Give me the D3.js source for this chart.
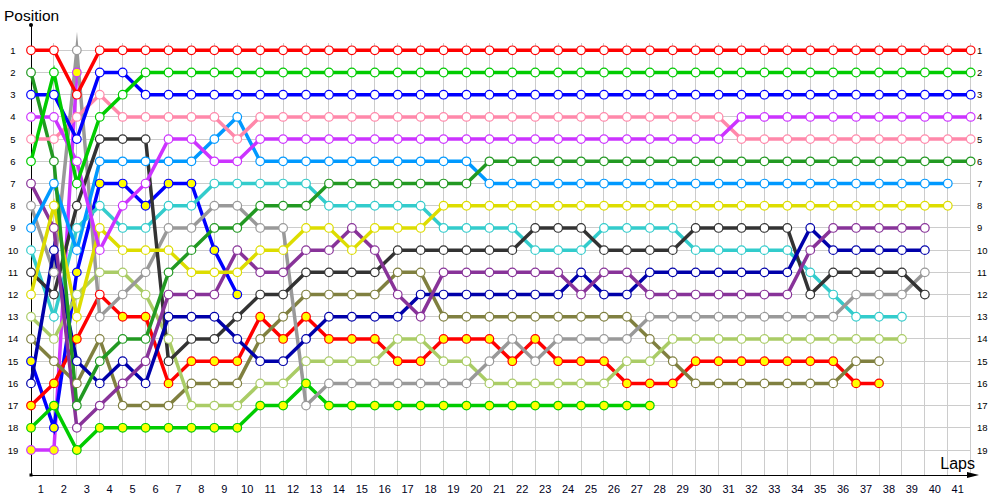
<!DOCTYPE html>
<html><head><meta charset="utf-8">
<script src="https://cdn.jsdelivr.net/npm/d3@7"></script>
<style>body{margin:0;background:#fff}svg{display:block}</style>
</head><body>
<svg id="c" width="1000" height="500"></svg>
<script>
// ---------- DATA ----------
const lapTicks = [1,2,3,4,5,6,7,8,9,10,11,12,13,14,15,16,17,18,19,20,21,22,23,24,25,26,27,28,29,30,31,32,33,34,35,36,37,38,39,40,41];
const positionTicks = [1,2,3,4,5,6,7,8,9,10,11,12,13,14,15,16,17,18,19];

// positions per lap, starting at lap 0
const red1    = [1,1,3,1,1,1,1,1,1,1,1,1,1,1,1,1,1,1,1,1,1,1,1,1,1,1,1,1,1,1,1,1,1,1,1,1,1,1,1,1,1,1];
const green1  = [6,2,7,4,3,2,2,2,2,2,2,2,2,2,2,2,2,2,2,2,2,2,2,2,2,2,2,2,2,2,2,2,2,2,2,2,2,2,2,2,2,2];
const blue1   = [3,3,5,2,2,3,3,3,3,3,3,3,3,3,3,3,3,3,3,3,3,3,3,3,3,3,3,3,3,3,3,3,3,3,3,3,3,3,3,3,3,3];
const magenta1= [4,4,6,10,8,7,5,5,6,6,5,5,5,5,5,5,5,5,5,5,5,5,5,5,5,5,5,5,5,5,5,4,4,4,4,4,4,4,4,4,4,4];
const pink    = [5,5,4,3,4,4,4,4,4,5,4,4,4,4,4,4,4,4,4,4,4,4,4,4,4,4,4,4,4,4,4,5,5,5,5,5,5,5,5,5,5,5];
const dkgreen = [2,6,17,15,14,14,11,10,9,9,8,8,8,7,7,7,7,7,7,7,6,6,6,6,6,6,6,6,6,6,6,6,6,6,6,6,6,6,6,6,6,6];
const ltblue  = [9,7,10,6,6,6,6,6,5,4,6,6,6,6,6,6,6,6,6,6,7,7,7,7,7,7,7,7,7,7,7,7,7,7,7,7,7,7,7,7,7];
const yellow  = [12,8,13,9,10,10,10,11,11,11,10,10,9,9,10,9,9,9,8,8,8,8,8,8,8,8,8,8,8,8,8,8,8,8,8,8,8,8,8,8,8];
const purple  = [7,9,18,17,16,15,12,12,12,10,11,11,10,10,9,10,12,13,11,11,11,11,11,11,12,11,11,12,12,12,12,12,12,12,10,9,9,9,9,9];
const navy    = [16,10,15,16,15,16,13,13,13,14,15,15,14,13,13,13,13,12,12,12,12,12,12,12,11,12,12,11,11,11,11,11,11,11,9,10,10,10,10,10];
const black   = [11,12,8,5,5,5,15,14,14,13,12,12,11,11,11,11,10,10,10,10,10,10,9,9,9,10,10,10,10,9,9,9,9,9,12,11,11,11,11,12];
const gray    = [8,11,1,13,12,11,9,9,8,8,9,9,17,16,16,16,16,16,16,16,15,14,15,14,14,14,14,13,13,13,13,13,13,13,13,13,12,12,12,11];
const cyan    = [10,13,9,8,9,9,8,8,7,7,7,7,7,8,8,8,8,8,9,9,9,9,10,10,10,9,9,9,9,10,10,10,10,10,11,12,13,13,13];
const ltgreen = [13,14,12,11,11,12,14,17,17,17,16,16,15,15,15,15,14,14,15,15,16,16,16,16,16,16,15,15,14,14,14,14,14,14,14,14,14,14,14];
const olive   = [14,15,16,14,17,17,17,16,16,16,14,13,12,12,12,12,11,11,13,13,13,13,13,13,13,13,13,14,15,16,16,16,16,16,16,16,15,15];
const red2    = [17,16,14,12,13,13,16,15,15,15,13,14,13,14,14,14,15,15,14,14,14,15,14,15,15,15,16,16,16,15,15,15,15,15,15,15,16,16];
const green2  = [18,17,19,18,18,18,18,18,18,18,17,17,16,17,17,17,17,17,17,17,17,17,17,17,17,17,17,17];
const blue2   = [15,18,11,7,7,8,7,7,10,12];
const magenta2= [19,19,2];

// laps where a marker is shown hollow although the series normally uses filled markers
const red2HollowLaps = [3];

// ---------- STYLE ----------
const series = [
  {v: magenta2, c:"#cc33ff", filled:true},
  {v: blue2,    c:"#0000ff", filled:true},
  {v: green2,   c:"#00cc00", filled:true},
  {v: red2,     c:"#ff0000", filled:true, hollow:red2HollowLaps},
  {v: olive,    c:"#808040"},
  {v: ltgreen,  c:"#aacc66"},
  {v: cyan,     c:"#33cccc"},
  {v: gray,     c:"#999999"},
  {v: black,    c:"#333333"},
  {v: navy,     c:"#0000aa"},
  {v: purple,   c:"#883399"},
  {v: yellow,   c:"#dddd00"},
  {v: ltblue,   c:"#0099ff"},
  {v: dkgreen,  c:"#229922"},
  {v: pink,     c:"#ff88aa"},
  {v: magenta1, c:"#cc33ff"},
  {v: blue1,    c:"#0000ff"},
  {v: green1,   c:"#00cc00"},
  {v: red1,     c:"#ff0000"}
];

const svg = d3.select("#c");
const x = d3.scaleLinear().domain([0,41]).range([31, 970.7]);
const y = d3.scaleLinear().domain([1,19]).range([50.3, 450]);
const font = "Tahoma, 'Liberation Sans', Arial, sans-serif";
const axisY = 475;

// grid
const g = svg.append("g");
g.selectAll("line.v").data(d3.range(0,42)).join("line")
  .attr("x1", d=>x(d)).attr("x2", d=>x(d)).attr("y1", 43).attr("y2", axisY)
  .attr("stroke", "#cccccc").attr("stroke-width", 1).attr("shape-rendering","crispEdges");
g.selectAll("line.h").data(positionTicks).join("line")
  .attr("x1", 31).attr("x2", x(41)).attr("y1", d=>y(d)).attr("y2", d=>y(d))
  .attr("stroke", "#cccccc").attr("stroke-width", 1).attr("shape-rendering","crispEdges");

// axes
svg.append("line").attr("x1",31).attr("x2",31).attr("y1",25).attr("y2",axisY)
  .attr("stroke","#000").attr("stroke-width",1).attr("shape-rendering","crispEdges");
svg.append("line").attr("x1",31).attr("x2",972).attr("y1",axisY).attr("y2",axisY)
  .attr("stroke","#000").attr("stroke-width",1).attr("shape-rendering","crispEdges");
svg.append("path").attr("d",`M967,${axisY-3} L979,${axisY} L967,${axisY+3} Z`).attr("fill","#000");
svg.append("circle").attr("cx",31).attr("cy",25).attr("r",2).attr("fill","#000");
svg.append("rect").attr("x",29.5).attr("y",axisY-1.5).attr("width",3).attr("height",3).attr("fill","#000");

// labels
svg.selectAll("text.pl").data(positionTicks).join("text")
  .attr("x", 13).attr("y", d=>y(d)+3.5).attr("text-anchor","middle")
  .attr("font-family", font).attr("font-size", 9.5).attr("fill","#000").text(d=>d);
svg.selectAll("text.pr").data(positionTicks).join("text")
  .attr("x", 977).attr("y", d=>y(d)+3.5).attr("text-anchor","start")
  .attr("font-family", font).attr("font-size", 9.5).attr("fill","#000").text(d=>d);
svg.selectAll("text.lap").data(lapTicks).join("text")
  .attr("x", d=>x(d)-13).attr("y", 493).attr("text-anchor","middle")
  .attr("font-family", font).attr("font-size", 11).attr("fill","#000022").text(d=>d);
svg.append("text").attr("x",4).attr("y",21).attr("font-family",font).attr("font-size",15.5).text("Position");
svg.append("text").attr("x",975).attr("y",469).attr("text-anchor","end").attr("font-family",font).attr("font-size",16).text("Laps");

// lines
const line = d3.line().x((d,i)=>x(i)).y(d=>y(d));
svg.append("g").selectAll("path").data(series).join("path")
  .attr("d", s=>line(s.v)).attr("fill","none").attr("stroke", s=>s.c)
  .attr("stroke-width", 3.5).attr("stroke-linejoin","miter").attr("stroke-miterlimit", 20);

// markers
const mg = svg.append("g");
series.forEach(s=>{
  mg.selectAll(null).data(s.v.map((p,i)=>({p,i}))).join("circle")
    .attr("cx", d=>x(d.i)).attr("cy", d=>y(d.p)).attr("r", 4.3)
    .attr("fill", d=> (s.filled && !(s.hollow||[]).includes(d.i)) ? "#ffff00" : "#ffffff")
    .attr("stroke", s.c).attr("stroke-width", 1.2);
});
</script>
</body></html>
